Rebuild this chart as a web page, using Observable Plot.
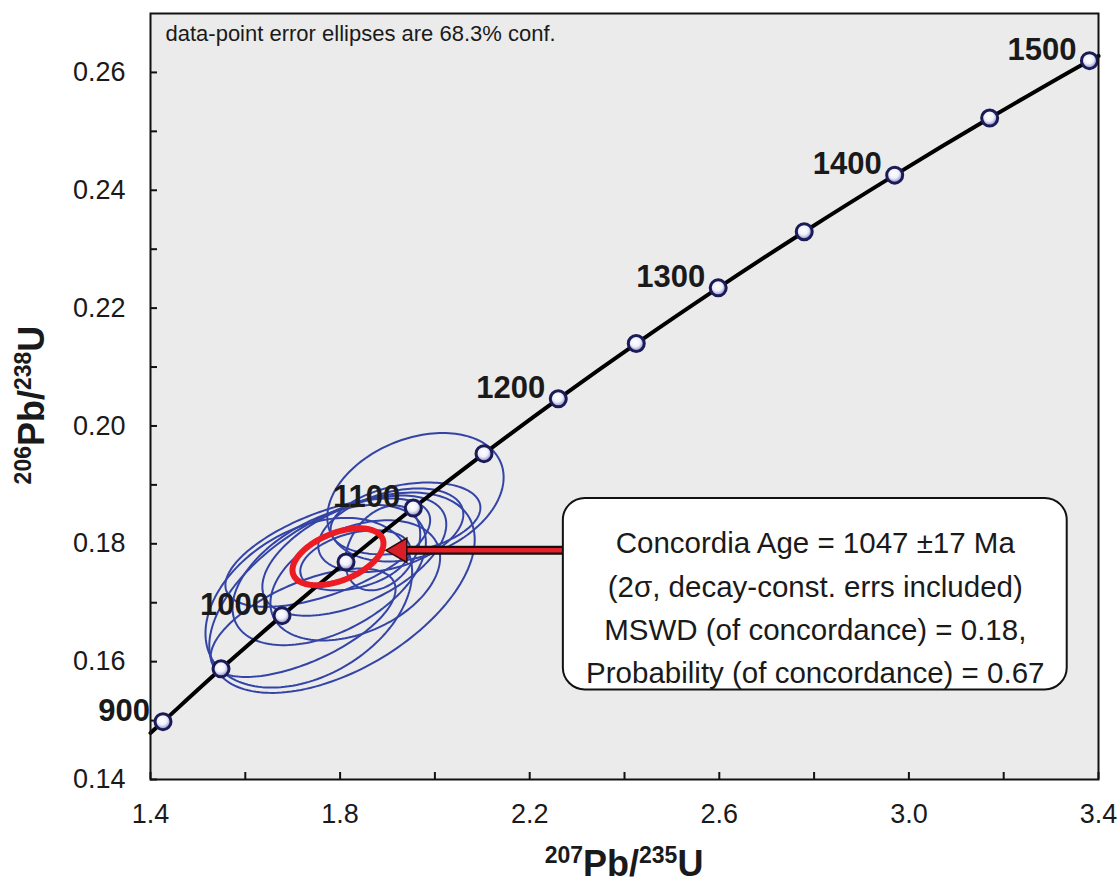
<!DOCTYPE html>
<html>
<head>
<meta charset="utf-8">
<script src="https://cdn.jsdelivr.net/npm/d3@7"></script>
<script src="https://cdn.jsdelivr.net/npm/@observablehq/plot@0.6"></script>
<style>
  html, body { margin: 0; padding: 0; background: #fff; overflow: hidden; }
  #chart svg { display: block; }
</style>
</head>
<body>
<div id="chart"></div>
<script>
// Concordia curve nodes (Ma) with their 207Pb/235U and 206Pb/238U ratios
const ages = [900, 950, 1000, 1050, 1100, 1150, 1200, 1250, 1300, 1350, 1400, 1450, 1500];
const pb207u235 = [1.4264, 1.5488, 1.6774, 1.8125, 1.9545, 2.1036, 2.2603, 2.4248, 2.5977, 2.7792, 2.9700, 3.1704, 3.3809];
const pb206u238 = [0.14982, 0.15878, 0.16781, 0.17690, 0.18607, 0.19530, 0.20461, 0.21399, 0.22344, 0.23297, 0.24257, 0.25225, 0.26200];
// where the curve leaves the frame
const curveStart = [1.40, 0.1479];
const curveEnd = [3.40, 0.2628];

// Spot analyses: centres, 68.3% half-widths and error correlations
const spotX    = [1.959, 1.938, 1.907, 1.830, 1.777, 1.734, 1.804, 1.722, 1.832, 1.890, 1.832, 1.774];
const spotY    = [0.1879, 0.1843, 0.1823, 0.1780, 0.1747, 0.1700, 0.1717, 0.1666, 0.1772, 0.1793, 0.1738, 0.1785];
const spotErrX = [0.186, 0.158, 0.153, 0.194, 0.204, 0.218, 0.280, 0.195, 0.116, 0.079, 0.179, 0.216];
const spotErrY = [0.0109, 0.0061, 0.0071, 0.0102, 0.0119, 0.0144, 0.0170, 0.0092, 0.0051, 0.0072, 0.0102, 0.0092];
const spotRho  = [0.31, 0.30, 0.38, 0.52, 0.47, 0.36, 0.53, 0.62, 0.36, 0.32, 0.38, 0.60];

// Concordia age ellipse
const ageX = 1.7955, ageY = 0.1778, ageErrX = 0.096, ageErrY = 0.00483, ageRho = 0.47;

// Axis ticks
const xTicks = [1.4, 1.8, 2.2, 2.6, 3.0, 3.4];
const xMinor = [1.4, 1.6, 1.8, 2.0, 2.2, 2.4, 2.6, 2.8, 3.0, 3.2, 3.4];
const yTicks = [0.14, 0.16, 0.18, 0.20, 0.22, 0.24, 0.26];
const yMinor = [0.14, 0.15, 0.16, 0.17, 0.18, 0.19, 0.20, 0.21, 0.22, 0.23, 0.24, 0.25, 0.26];

// Result box and its pointer (data units)
const boxLines = [
  "Concordia Age = 1047 \u00b117 Ma",
  "(2\u03c3, decay-const. errs included)",
  "MSWD (of concordance) = 0.18,",
  "Probability (of concordance) = 0.67"
];
const boxX1 = 2.271, boxX2 = 3.334, boxY1 = 0.1552, boxY2 = 0.1877, boxTextY = 0.1697;
const pointerY = 0.1789, pointerHeadX = 1.926, pointerBaseX = 1.938;

const nodes = ages.map((a, i) => ({age: a, x: pb207u235[i], y: pb206u238[i]}));
const curve = [{x: curveStart[0], y: curveStart[1]}, ...nodes, {x: curveEnd[0], y: curveEnd[1]}];

function outline(cx, cy, ex, ey, rho, id, n = 160) {
  const s = Math.sqrt(1 - rho * rho);
  return d3.range(n + 1).map(i => {
    const t = 2 * Math.PI * i / n;
    return {id, x: cx + ex * Math.cos(t), y: cy + ey * (rho * Math.cos(t) + s * Math.sin(t))};
  });
}
const spots = spotX.flatMap((x, i) => outline(x, spotY[i], spotErrX[i], spotErrY[i], spotRho[i], i));
const ageEllipse = outline(ageX, ageY, ageErrX, ageErrY, ageRho, 0);

const font = "'Liberation Sans', Arial, Helvetica, sans-serif";
const W = 1120, H = 882, mL = 150, mR = 22, mT = 13, mB = 103;
const innerW = W - mL - mR, innerH = H - mT - mB;

const chart = Plot.plot({
  width: W,
  height: H,
  marginLeft: mL,
  marginRight: mR,
  marginTop: mT,
  marginBottom: mB,
  style: {fontFamily: font, fontSize: "27px", color: "#1a1a1a", background: "#fff", overflow: "visible"},
  x: {domain: [1.4, 3.4]},
  y: {domain: [0.14, 0.27]},
  marks: [
    Plot.frame({fill: "#ebebeb", stroke: null}),
    // inward ticks
    Plot.tickY(yMinor, {y: d => d, insetRight: innerW - 7, stroke: "#111", strokeWidth: 2}),
    Plot.tickX(xMinor, {x: d => d, insetTop: innerH - 7, stroke: "#111", strokeWidth: 2}),
    Plot.axisY(yTicks, {tickSize: 0, tickPadding: 25, tickFormat: d3.format(".2f"), label: null, fontSize: 27, fill: "#1a1a1a"}),
    Plot.axisX(xTicks, {tickSize: 0, tickPadding: 24, tickFormat: d3.format(".1f"), label: null, fontSize: 27, fill: "#1a1a1a"}),
    // spot error ellipses
    Plot.line(spots, {x: "x", y: "y", z: "id", stroke: "#3344a6", strokeWidth: 2}),
    // concordia curve
    Plot.line(curve, {x: "x", y: "y", curve: "catmull-rom", stroke: "#000", strokeWidth: 4}),
    // concordia age ellipse
    Plot.line(ageEllipse, {x: "x", y: "y", stroke: "#ec1c24", strokeWidth: 6}),
    // age nodes
    Plot.dot(nodes, {x: "x", y: "y", r: 8, fill: "url(#nodeFill)", stroke: "#1b1b58", strokeWidth: 3}),
    Plot.text(nodes.filter(d => d.age % 100 === 0), {x: "x", y: "y", text: d => String(d.age), textAnchor: "end", dx: -13, dy: -11, fontSize: 31, fontWeight: "bold", fill: "#1a1a1a"}),
    // pointer from the result box to the age ellipse
    Plot.line([{x: pointerBaseX, y: pointerY}, {x: boxX1, y: pointerY}], {x: "x", y: "y", stroke: "#111", strokeWidth: 9}),
    Plot.line([{x: pointerBaseX, y: pointerY}, {x: boxX1, y: pointerY}], {x: "x", y: "y", stroke: "#e8202a", strokeWidth: 4.5}),
    Plot.dot([{x: pointerHeadX, y: pointerY}], {x: "x", y: "y", symbol: "triangle", r: 9, rotate: -90, fill: "#d81e28", stroke: "#2a0a0a", strokeWidth: 1.5}),
    // result box
    Plot.rect([{x1: boxX1, x2: boxX2, y1: boxY1, y2: boxY2}], {x1: "x1", x2: "x2", y1: "y1", y2: "y2", rx: 22, fill: "#fff", stroke: "#111", strokeWidth: 2}),
    Plot.text([boxLines.join("\n")], {x: (boxX1 + boxX2) / 2, y: boxTextY, text: d => d, textAnchor: "middle", lineAnchor: "middle", lineHeight: 1.47, fontSize: 29.5, fill: "#1a1a1a"}),
    // note
    Plot.text(["data-point error ellipses are 68.3% conf."], {frameAnchor: "top-left", text: d => d, dx: 15, dy: 12, lineAnchor: "top", fontSize: 22, fill: "#1a1a1a"}),
    Plot.frame({stroke: "#111", strokeWidth: 2})
  ]
});

document.getElementById("chart").appendChild(chart);

// node shading and axis titles with superscript mass numbers
const svg = d3.select(chart);
const grad = svg.insert("defs", ":first-child").append("radialGradient")
  .attr("id", "nodeFill").attr("cx", "45%").attr("cy", "40%").attr("r", "60%");
grad.append("stop").attr("offset", "0%").attr("stop-color", "#ffffff");
grad.append("stop").attr("offset", "50%").attr("stop-color", "#f0f0fb");
grad.append("stop").attr("offset", "100%").attr("stop-color", "#7c7cc0");

function isotopeTitle(g, parts) {
  const t = g.append("text")
    .attr("font-family", font).attr("font-weight", "bold").attr("fill", "#1a1a1a")
    .attr("text-anchor", "middle");
  parts.forEach(([s, sup]) => {
    t.append("tspan").text(s)
      .attr("font-size", sup ? 23 : 36)
      .attr("dy", sup ? -13 : 13);
  });
  t.select("tspan").attr("dy", -13);
  return t;
}
const xTitle = svg.append("g").attr("transform", `translate(${mL + innerW / 2},876)`);
isotopeTitle(xTitle, [["207", true], ["Pb/", false], ["235", true], ["U", false]]);
const yTitle = svg.append("g").attr("transform", `translate(44,${mT + innerH / 2 + 9}) rotate(-90)`);
isotopeTitle(yTitle, [["206", true], ["Pb/", false], ["238", true], ["U", false]]);
</script>
</body>
</html>
